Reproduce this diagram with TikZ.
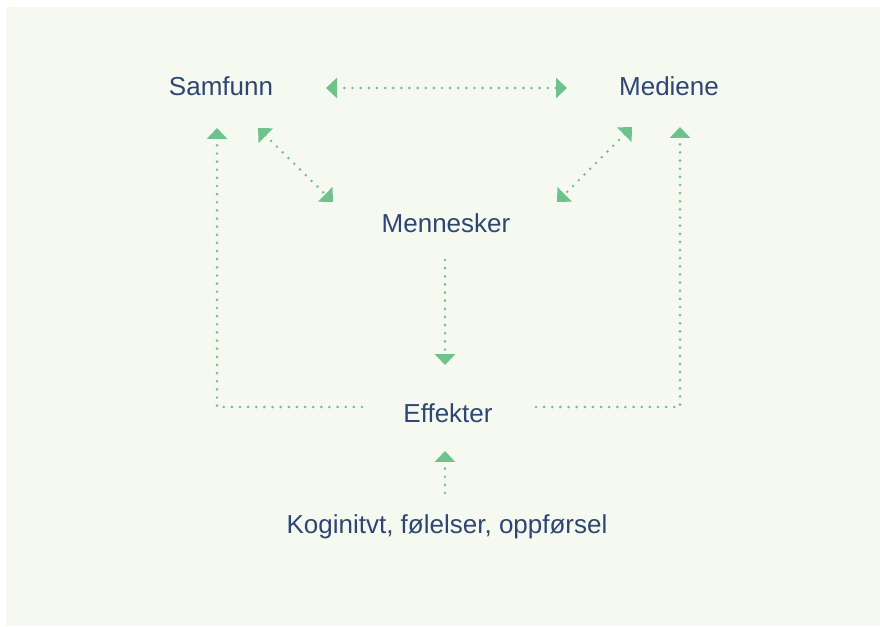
\documentclass[tikz,border=0pt]{standalone}
\usepackage{fontspec}
\setmainfont{Liberation Sans}
\usetikzlibrary{arrows.meta}
\definecolor{bgc}{HTML}{F6F9F0}
\definecolor{txtc}{HTML}{2D4672}
\definecolor{grn}{HTML}{6EC38D}
\tikzset{
  lbl/.style={anchor=base, inner sep=0pt, text=txtc, font=\fontsize{19.5pt}{23pt}\selectfont},
  dotline/.style={draw=grn, line width=2.2pt, line cap=round, dash pattern=on 0pt off 6.1pt},
  tip/.style={-{Triangle[length=8.2pt,width=15pt,fill=grn,color=grn]}},
  tips/.style={{Triangle[length=8.2pt,width=15pt,fill=grn,color=grn]}-{Triangle[length=8.2pt,width=15pt,fill=grn,color=grn]}}
}
\begin{document}
\begin{tikzpicture}[x=0.75pt,y=-0.75pt]
\useasboundingbox (0,0) rectangle (880,626);
\fill[white] (0,0) rectangle (880,626);
\fill[bgc] (6,7) rectangle (880,626);

\node[lbl] (sam) at (221,95) {Samfunn};
\node[lbl] (med) at (669,95) {Mediene};
\node[lbl] (men) at (446,232) {Mennesker};
\node[lbl] (eff) at (448,422) {Effekter};
\node[lbl] (kog) at (447,533) {Koginitvt, følelser, oppførsel};

% connector end points
\coordinate (samR) at (326,88);
\coordinate (medL) at (567,88);
\coordinate (samUp) at (217,128);
\coordinate (effL) at (362,407);
\coordinate (medUp) at (680,127);
\coordinate (effR) at (536,407);
\coordinate (samD) at (258,128);
\coordinate (menL) at (333,202);
\coordinate (medD) at (632,127);
\coordinate (menR) at (557,202);
\coordinate (menB) at (445,260);
\coordinate (effT) at (445,365);
\coordinate (kogT) at (445,493);
\coordinate (effB) at (445,451);

\draw[dotline,tips] (samR) -- (medL);
\draw[dotline,tip] (effL) -| (samUp);
\draw[dotline,tip] (effR) -| (medUp);
\draw[dotline,tips] (samD) -- (menL);
\draw[dotline,tips] (medD) -- (menR);
\draw[dotline,tip] (menB) -- (effT);
\draw[dotline,tip] (kogT) -- (effB);
\end{tikzpicture}
\end{document}
